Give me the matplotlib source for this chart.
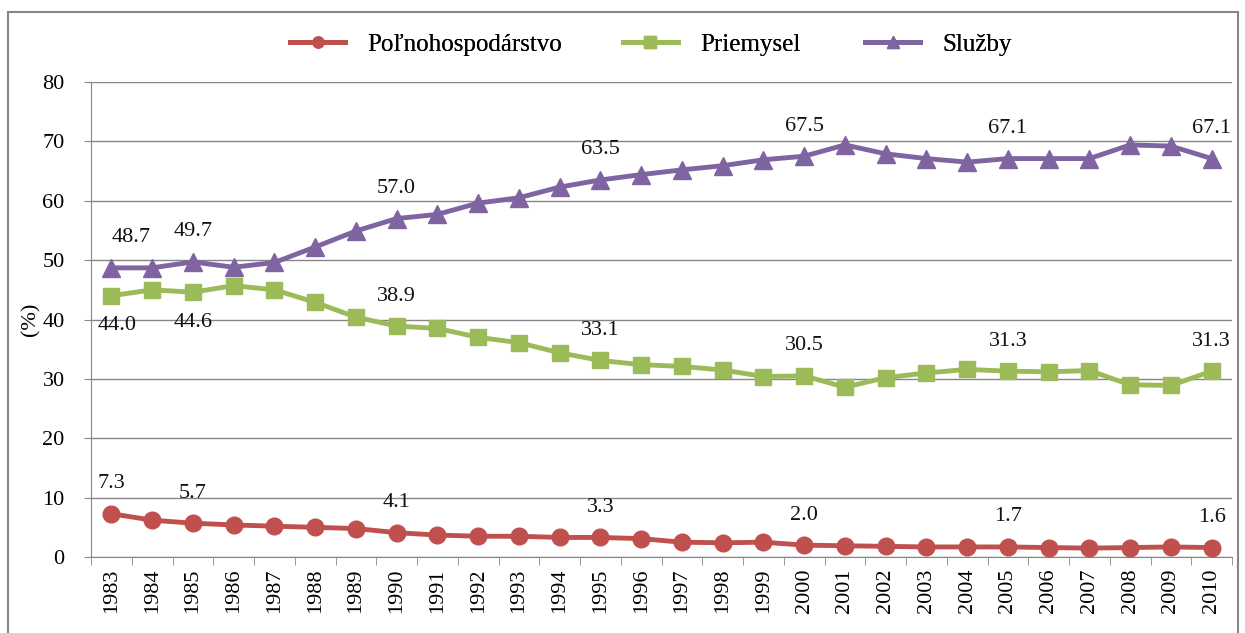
import matplotlib.pyplot as plt
from matplotlib.patches import Rectangle
from matplotlib.lines import Line2D

years = list(range(1983, 2011))
polnohospodarstvo = [7.3, 6.2, 5.7, 5.4, 5.2, 5.0, 4.8, 4.1, 3.7, 3.5, 3.5, 3.3, 3.3, 3.1,
                     2.5, 2.4, 2.5, 2.0, 1.9, 1.8, 1.7, 1.7, 1.7, 1.6, 1.5, 1.6, 1.7, 1.6]
priemysel = [44.0, 45.0, 44.6, 45.7, 45.0, 42.9, 40.4, 38.9, 38.5, 37.0, 36.1, 34.4, 33.1, 32.4,
             32.1, 31.5, 30.4, 30.5, 28.6, 30.2, 31.0, 31.6, 31.3, 31.2, 31.4, 29.0, 28.9, 31.3]
sluzby = [48.7, 48.7, 49.7, 48.8, 49.6, 52.2, 54.9, 57.0, 57.7, 59.6, 60.5, 62.3, 63.5, 64.4,
          65.2, 65.9, 66.9, 67.5, 69.4, 67.9, 67.1, 66.5, 67.1, 67.1, 67.1, 69.4, 69.2, 67.1]
labelled_years = [1983, 1985, 1990, 1995, 2000, 2005, 2010]
names = ['Poľnohospodárstvo', 'Priemysel', 'Služby']

plt.rcParams['font.family'] = ['Liberation Serif', 'DejaVu Serif']

fig = plt.figure(figsize=(12.45, 6.33), dpi=100)
ax = fig.add_axes([0.0731, 0.12, 0.9165, 0.7505])

x = list(range(len(years)))
colors = ['#C0504D', '#9BBB59', '#8064A2']
markers = ['o', 's', '^']
msizes = [12, 12, 13]
series = [polnohospodarstvo, priemysel, sluzby]

for vals, c, m, ms in zip(series, colors, markers, msizes):
    ax.plot(x, vals, color=c, marker=m, markersize=ms, linewidth=3.5, zorder=3)

# data labels (first-year labels of the upper series sit a bit to the right)
for i, vals in enumerate(series):
    for yr in labelled_years:
        k = years.index(yr)
        below = (i == 1 and yr in (1983, 1985))
        dx = 0
        if yr == 1983 and i == 2:
            dx = 20
        elif yr == 1983 and i == 1:
            dx = 6
        ax.annotate(f'{vals[k]:.1f}', (x[k], vals[k]),
                    xytext=(dx, -30 if below else 30), textcoords='offset pixels',
                    ha='center', va='center', fontsize=16, color='#111111', zorder=4)

ax.set_xlim(-0.5, len(years) - 0.5)
ax.set_ylim(0, 80)
ax.set_yticks(range(0, 81, 10))
ax.set_xticks(x)
ax.set_xticklabels([str(y) for y in years], rotation=90, fontsize=16)
ax.set_xticks([v - 0.5 for v in range(len(years) + 1)], minor=True)
ax.tick_params(axis='x', which='major', length=0, pad=8)
ax.tick_params(axis='x', which='minor', length=6, color='#868686')
ax.tick_params(axis='y', length=5, color='#868686', labelsize=16, pad=14)
ax.grid(axis='y', color='#868686', linewidth=1)
ax.set_axisbelow(True)
for s in ['top', 'right']:
    ax.spines[s].set_visible(False)
for s in ['left', 'bottom']:
    ax.spines[s].set_color('#868686')
ax.set_ylabel('(%)', fontsize=16, labelpad=1)

# legend: three separate entries placed like the original
legend_x = [0.215, 0.482, 0.677]
for name, c, m, lx in zip(names, colors, markers, legend_x):
    h = Line2D([], [], color=c, marker=m, markersize=8, linewidth=3.5)
    leg = fig.legend([h], [name], loc='center left', bbox_to_anchor=(lx, 0.93),
                     frameon=False, fontsize=18, handlelength=2.2, handletextpad=0.9)
    fig.add_artist(leg)

fig.patches.append(Rectangle((8 / 1245, -0.01), 1230 / 1245, 1 - 12 / 633 + 0.01,
                             transform=fig.transFigure, fill=False,
                             edgecolor='#868686', linewidth=1.5))

fig.savefig('out.png', dpi=100)
